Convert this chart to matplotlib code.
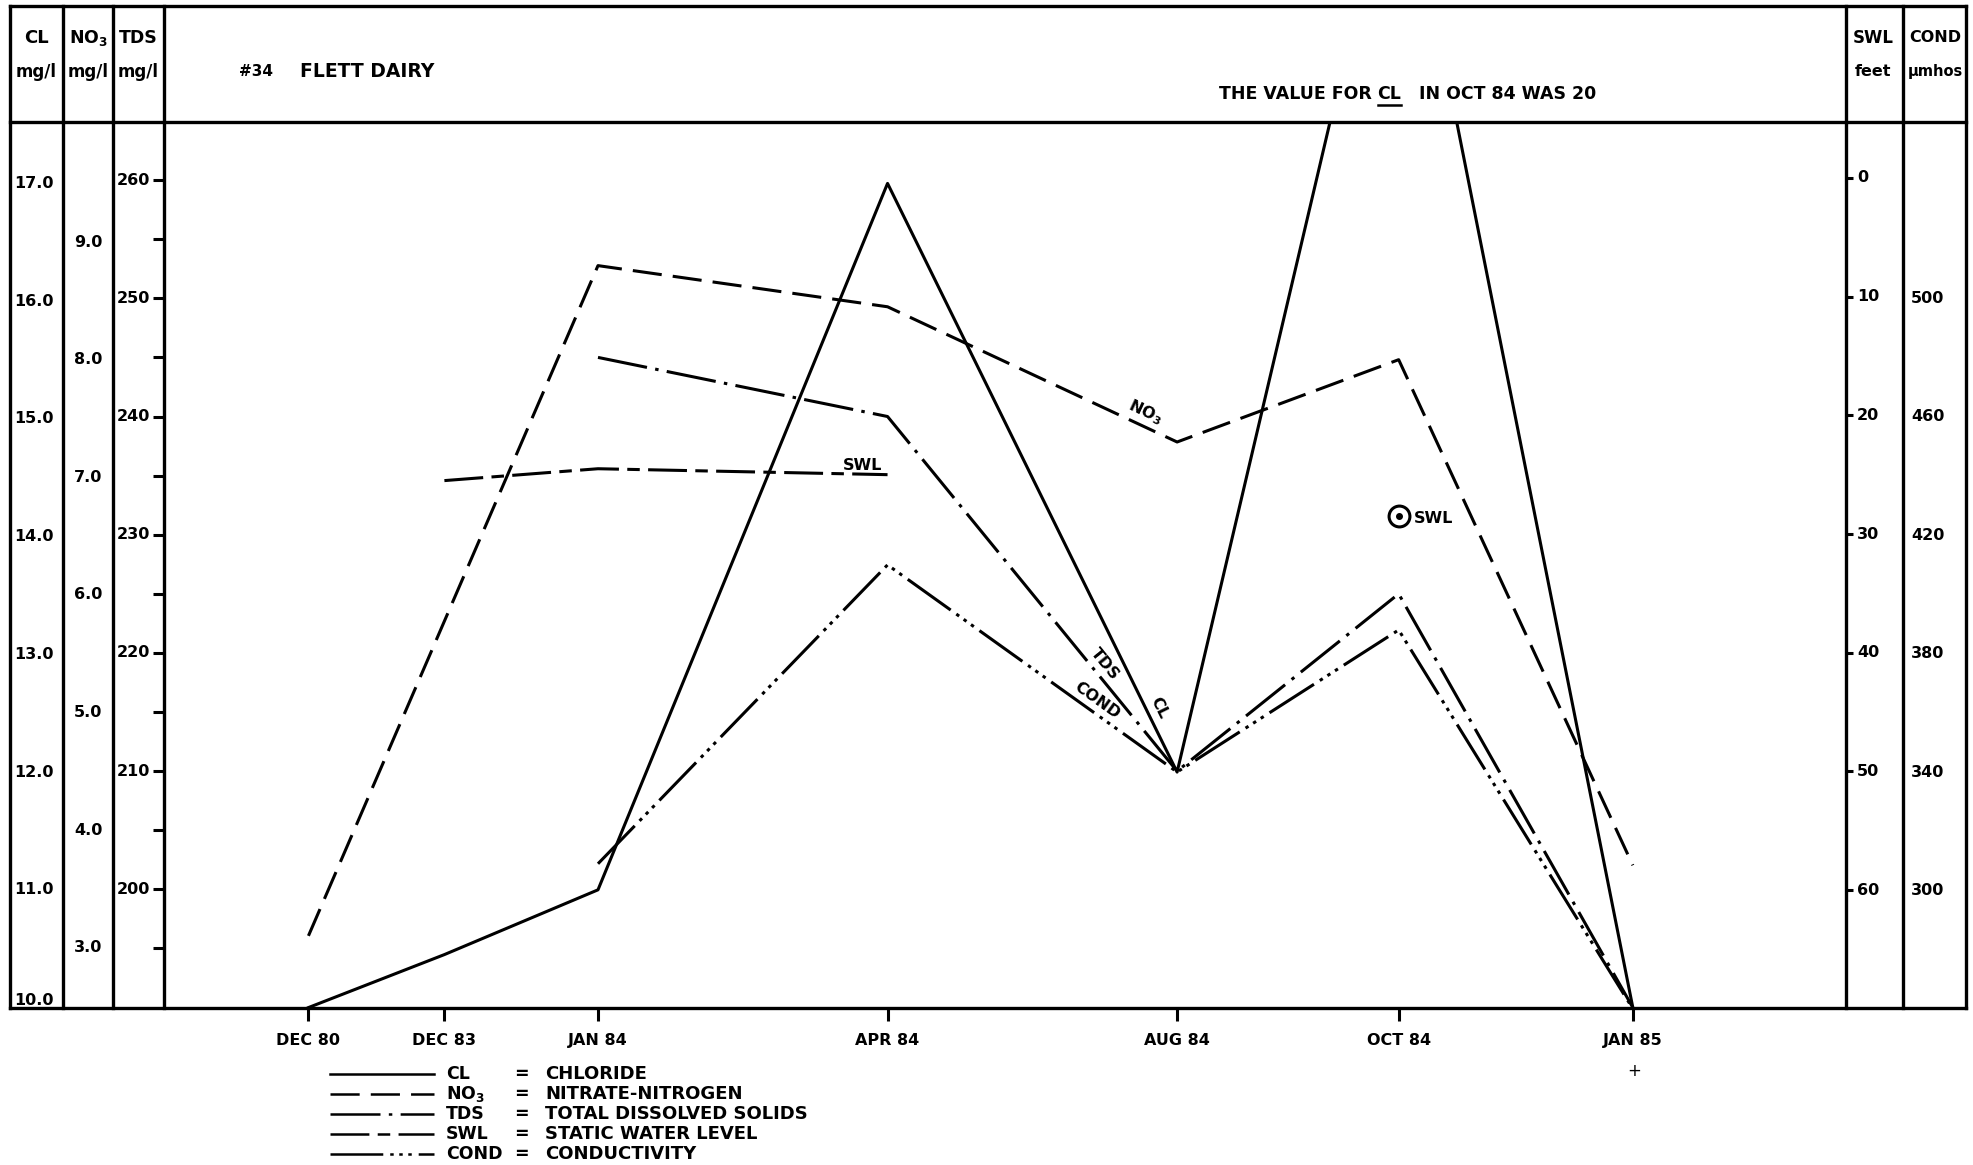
import numpy as np
import matplotlib.pyplot as plt
from matplotlib.lines import Line2D

plt.rcParams['font.family'] = ['DejaVu Sans']
plt.rcParams['font.weight'] = 'bold'
plt.rcParams['mathtext.fontset'] = 'dejavusans'
plt.rcParams['lines.scale_dashes'] = False

# sampling dates, and where each one sits on the (uneven) drawn time axis
dates = ['DEC 80', 'DEC 83', 'JAN 84', 'APR 84', 'AUG 84', 'OCT 84', 'JAN 85']
date_pos = [115, 223, 345, 575, 805, 981, 1167]

# chloride, mg/l  (Oct 84 = 20, off the scale)
cl_dates = ['DEC 80', 'DEC 83', 'JAN 84', 'APR 84', 'AUG 84', 'OCT 84', 'JAN 85']
cl = [10.0, 10.45, 11.0, 17.0, 12.0, 20.0, 10.0]
# nitrate-nitrogen, mg/l
no3_dates = ['DEC 80', 'JAN 84', 'APR 84', 'AUG 84', 'OCT 84', 'JAN 85']
no3 = [3.1, 8.8, 8.45, 7.3, 8.0, 3.7]
# total dissolved solids, mg/l
tds_dates = ['JAN 84', 'APR 84', 'AUG 84', 'OCT 84', 'JAN 85']
tds = [245, 240, 210, 225, 190]
# static water level, feet
swl_dates = ['DEC 83', 'JAN 84', 'APR 84']
swl = [25.5, 24.5, 25.0]
swl_point_date = 'OCT 84'
swl_point = 28.5
# conductivity, umhos
cond_dates = ['JAN 84', 'APR 84', 'AUG 84', 'OCT 84', 'JAN 85']
cond = [309, 410, 340, 388, 260]

# scale labels in the side columns
cl_ticks = [10.0, 11.0, 12.0, 13.0, 14.0, 15.0, 16.0, 17.0]
no3_ticks = [3.0, 4.0, 5.0, 6.0, 7.0, 8.0, 9.0]
tds_ticks = [200, 210, 220, 230, 240, 250, 260]
swl_ticks = [0, 10, 20, 30, 40, 50, 60]
cond_ticks = [300, 340, 380, 420, 460, 500]

# line styles (in points, not scaled by width)
LS = {
    'CL': '-',
    'NO3': (0, (21, 8)),
    'TDS': (0, (36, 6, 2.5, 6)),
    'SWL': (0, (28, 6, 9, 6)),
    'COND': (0, (38, 5, 2.5, 4, 2.5, 4, 2.5, 5)),
}
LW = 2.2
FS = 11

W, H = 1568, 925          # layout is laid out on the shrunk reference grid


def fx(p):
    return p / W


def fy(p):
    return 1 - p / H


def xs_for(ds):
    return [date_pos[dates.index(d)] for d in ds]


fig = plt.figure(figsize=(19.74, 11.65), dpi=100)

# frame of the sheet
frame = dict(color='black', lw=2.4, solid_capstyle='projecting')
for py in [5, 97, 800]:
    fig.add_artist(Line2D([fx(8), fx(1562)], [fy(py), fy(py)], **frame))
for px in [8, 50, 90, 130, 1466, 1512, 1562]:
    fig.add_artist(Line2D([fx(px), fx(px)], [fy(5), fy(800)], **frame))

# main plotting area, one axis per parameter
rect = [fx(130), fy(800), fx(1466) - fx(130), fy(97) - fy(800)]
ax = fig.add_axes(rect)
ax.set_xlim(0, 1336)
ax.set_ylim(10.0, 17.52)
ax_no3 = ax.twinx()
ax_no3.set_ylim(2.49, 10.02)
ax_tds = ax.twinx()
ax_tds.set_ylim(190.0, 264.9)
ax_swl = ax.twinx()
ax_swl.set_ylim(69.9, -4.7)
ax_cond = ax.twinx()
ax_cond.set_ylim(260.4, 559.6)

for a in [ax, ax_no3, ax_tds, ax_swl, ax_cond]:
    for s in a.spines.values():
        s.set_visible(False)
    a.patch.set_visible(False)
    a.set_yticks([])

ax.set_xticks(date_pos)
ax.set_xticklabels(dates, fontsize=FS + 0.5, fontweight='bold')
ax.tick_params(axis='x', direction='out', length=9, width=2.2, pad=9)

# TDS tick marks on the left edge, SWL tick marks on the right edge
ax_tds.yaxis.set_ticks_position('left')
ax_tds.set_yticks(np.arange(195, 261, 5))
ax_tds.tick_params(axis='y', direction='out', length=8, width=2.2, labelleft=False, labelright=False)
ax_swl.yaxis.set_ticks_position('right')
ax_swl.set_yticks(swl_ticks)
ax_swl.tick_params(axis='y', direction='out', length=5, width=2.2, labelleft=False, labelright=False)

ax.plot(xs_for(cl_dates), cl, color='black', lw=LW, linestyle=LS['CL'])
ax_no3.plot(xs_for(no3_dates), no3, color='black', lw=LW, linestyle=LS['NO3'])
ax_tds.plot(xs_for(tds_dates), tds, color='black', lw=LW, linestyle=LS['TDS'])
ax_swl.plot(xs_for(swl_dates), swl, color='black', lw=LW, linestyle=LS['SWL'])
ax_cond.plot(xs_for(cond_dates), cond, color='black', lw=LW, linestyle=LS['COND'])

# lone water level reading
sx = date_pos[dates.index(swl_point_date)]
ax_swl.plot([sx], [swl_point], marker='o', ms=15, mfc='none', mec='black', mew=2.2)
ax_swl.plot([sx], [swl_point], marker='o', ms=4, color='black')
ax_swl.annotate('SWL', (sx, swl_point), xytext=(11, -1.5), textcoords='offset points',
                ha='left', va='center', fontsize=11.5, fontweight='bold')

# label at the end of the water level line
sxs = xs_for(swl_dates)
ax_swl.annotate('SWL', (sxs[-1], swl[-1]), xytext=(-4, 1.5), textcoords='offset points',
                ha='right', va='bottom', fontsize=11.5, fontweight='bold')


def seg_label(a, xs, ys, i, t, text, off):
    # put text along segment i -> i+1, shifted off points to its upper side
    p0 = a.transData.transform((xs[i], ys[i]))
    p1 = a.transData.transform((xs[i + 1], ys[i + 1]))
    ang = np.degrees(np.arctan2(p1[1] - p0[1], p1[0] - p0[0]))
    x = xs[i] + t * (xs[i + 1] - xs[i])
    y = ys[i] + t * (ys[i + 1] - ys[i])
    nx, ny = -np.sin(np.radians(ang)), np.cos(np.radians(ang))
    a.annotate(text, (x, y), xytext=(off * nx, off * ny), textcoords='offset points',
               rotation=ang, rotation_mode='anchor', ha='center', va='center',
               fontsize=11.5, fontweight='bold')


seg_label(ax_no3, xs_for(no3_dates), no3, 2, 0.87, 'NO$_\\mathbf{3}$', 10)
seg_label(ax_tds, xs_for(tds_dates), tds, 1, 0.72, 'TDS', 8.5)
seg_label(ax_cond, xs_for(cond_dates), cond, 1, 0.70, 'COND', 8.5)
seg_label(ax, xs_for(cl_dates), cl, 3, 0.90, 'CL', 9)


# side columns with the scales
def column(x0, x1, lims, ticks, fmt, xt, first_bottom=False):
    c = fig.add_axes([fx(x0), fy(800), fx(x1) - fx(x0), fy(97) - fy(800)])
    c.set_xlim(0, 1)
    c.set_ylim(*lims)
    c.axis('off')
    for v in ticks:
        va = 'center'
        if first_bottom and v == ticks[0]:
            va = 'bottom'
        c.text(xt, v, fmt.format(v), ha='left', va=va, fontsize=FS + 0.5, fontweight='bold')
    return c


column(8, 50, (10.0, 17.52), cl_ticks, '{:.1f}', 0.07, first_bottom=True)
column(50, 90, (2.49, 10.02), no3_ticks, '{:.1f}', 0.22)
column(90, 130, (190.0, 264.9), tds_ticks, '{:d}', 0.07)
column(1466, 1512, (69.9, -4.7), swl_ticks, '{:d}', 0.2)
column(1512, 1562, (260.4, 559.6), cond_ticks, '{:d}', 0.12)

# column headings
heads = [(29, 'CL', 'mg/l', 13, 12), (70, 'NO$_\\mathbf{3}$', 'mg/l', 12.5, 12),
         (110, 'TDS', 'mg/l', 12.5, 12), (1488, 'SWL', 'feet', 12, 11.5),
         (1537, 'COND', 'μmhos', 11.5, 10.5)]
for px, top, unit, s1, s2 in heads:
    fig.text(fx(px), fy(30), top, ha='center', va='center', fontsize=s1, fontweight='bold')
    fig.text(fx(px), fy(57), unit, ha='center', va='center', fontsize=s2, fontweight='bold')

fig.text(fx(190), fy(57), '#34', ha='left', va='center', fontsize=11, fontweight='bold')
fig.text(fx(238), fy(57), 'FLETT DAIRY', ha='left', va='center', fontsize=13.5, fontweight='bold')

# note with underlined CL
NFS = 12.5
r = fig.canvas.get_renderer()
t1 = fig.text(fx(968), fy(75), 'THE VALUE FOR ', ha='left', va='center', fontsize=NFS, fontweight='bold')
bb = t1.get_window_extent(r).transformed(fig.transFigure.inverted())
t2 = fig.text(bb.x1, fy(75), 'CL', ha='left', va='center', fontsize=NFS, fontweight='bold')
bb2 = t2.get_window_extent(r).transformed(fig.transFigure.inverted())
fig.add_artist(Line2D([bb2.x0, bb2.x1], [bb2.y0 - 0.001, bb2.y0 - 0.001], color='black', lw=1.8))
fig.text(bb2.x1, fy(75), '   IN OCT 84 WAS 20', ha='left', va='center', fontsize=NFS, fontweight='bold')

# key below the chart
KFS = 12.5
keys = [('CL', 'CL', 'CHLORIDE'), ('NO3', 'NO$_\\mathbf{3}$', 'NITRATE-NITROGEN'),
        ('TDS', 'TDS', 'TOTAL DISSOLVED SOLIDS'), ('SWL', 'SWL', 'STATIC WATER LEVEL'),
        ('COND', 'COND', 'CONDUCTIVITY')]
for k, (key, abbr, name) in enumerate(keys):
    py = 853 + k * 15.8
    fig.add_artist(Line2D([fx(262), fx(345)], [fy(py), fy(py)], color='black', lw=1.8, linestyle=LS[key]))
    fig.text(fx(354), fy(py), abbr, ha='left', va='center', fontsize=KFS, fontweight='bold')
    fig.text(fx(414), fy(py), '=', ha='center', va='center', fontsize=KFS, fontweight='bold')
    fig.text(fx(433), fy(py), name, ha='left', va='center', fontsize=KFS + 0.5, fontweight='bold')

fig.text(fx(1298), fy(850), '+', ha='center', va='center', fontsize=12, fontweight='normal')

fig.savefig('out.png', dpi=100)
